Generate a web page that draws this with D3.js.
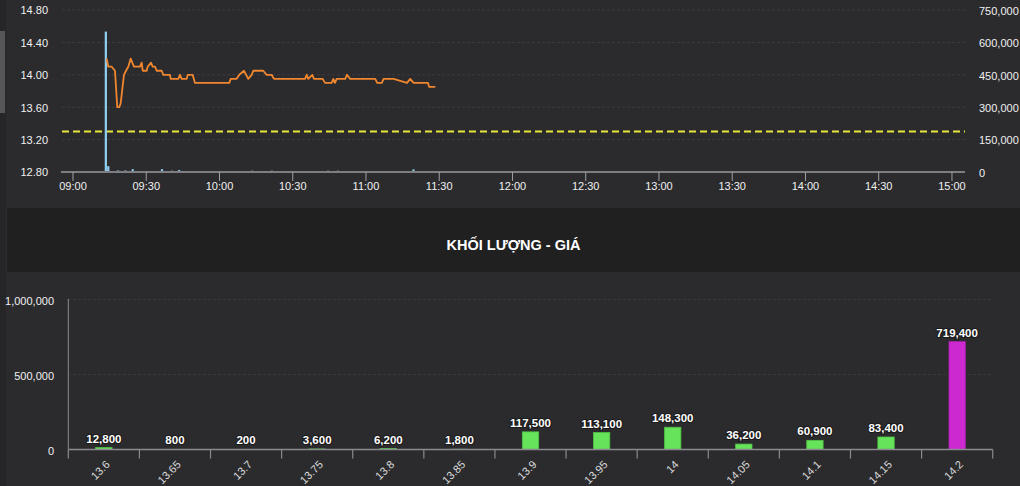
<!DOCTYPE html>
<html>
<head>
<meta charset="utf-8">
<script src="https://cdn.jsdelivr.net/npm/d3@7"></script>
<style>
  html, body { margin: 0; padding: 0; background: #2b2b2e; }
  svg { display: block; font-family: "Liberation Sans", Arial, Helvetica, sans-serif; }
</style>
</head>
<body>
<svg id="chart" width="1020" height="486"></svg>
<script>
// ---------- DATA ----------
const priceTimes = ["09:13:48","09:14:28","09:15:51","09:17:12","09:18:08","09:18:58","09:19:32","09:20:53","09:21:43","09:22:39",
  "09:23:38","09:24:17","09:24:59","09:27:26","09:28:08","09:28:33","09:30:11","09:30:35","09:31:57","09:32:38",
  "09:33:35","09:34:17","09:36:20","09:36:59","09:39:44","09:40:01","09:43:08","09:43:49","09:44:31","09:46:34",
  "09:46:59","09:49:01","09:49:58","10:04:01","10:04:35","10:07:02","10:08:07","10:10:02","10:11:47","10:13:11",
  "10:13:50","10:17:56","10:19:20","10:21:23","10:22:19","10:35:01","10:35:43","10:36:22","10:38:01","10:38:42",
  "10:42:16","10:43:13","10:45:57","10:46:37","10:47:18","10:48:00","10:51:30","10:52:12","10:53:30","11:03:48",
  "11:04:36","11:06:30","11:07:12","11:11:18","11:16:48","11:18:06","11:19:30","11:25:24","11:25:54","11:28:24"];
const priceValues = [14.20,14.10,14.10,14.05,13.60,13.60,13.65,14.00,14.05,14.10,
  14.20,14.15,14.10,14.10,14.15,14.05,14.05,14.10,14.15,14.10,
  14.10,14.05,14.05,14.00,14.00,13.95,13.95,14.00,13.95,13.95,
  14.00,14.00,13.90,13.90,13.95,13.95,14.00,14.05,13.95,14.00,
  14.05,14.05,14.00,14.00,13.95,13.95,14.00,13.95,14.00,13.95,
  13.95,13.90,13.90,13.95,13.90,13.95,13.95,14.00,13.95,13.95,
  13.90,13.90,13.95,13.95,13.90,13.95,13.90,13.90,13.85,13.85];

const volTimes  = ["09:13","09:14","09:18","09:21","09:24","09:36","09:40","09:43","10:13","10:21","10:44","10:48","11:19"];
const volValues = [650000,27000,7000,7000,13000,13000,6000,9000,6000,6000,6000,6000,12000];

const refPrice = 13.30;

const priceTicks = [12.80,13.20,13.60,14.00,14.40,14.80];
const volTicks   = [0,150000,300000,450000,600000,750000];
const timeTicks  = ["09:00","09:30","10:00","10:30","11:00","11:30","12:00","12:30","13:00","13:30","14:00","14:30","15:00"];

const priceLevels = ["13.6","13.65","13.7","13.75","13.8","13.85","13.9","13.95","14","14.05","14.1","14.15","14.2"];
const levelVolumes = [12800,800,200,3600,6200,1800,117500,113100,148300,36200,60900,83400,719400];
const ceilingLevel = "14.2";
const levelTicks = [0,500000,1000000];

const titleText = "KHỐI LƯỢNG - GIÁ";

// ---------- SETUP ----------
const svg = d3.select("#chart");
const pt = d3.timeParse("%H:%M:%S");
const pm = d3.timeParse("%H:%M");
const fmtInt = d3.format(",");
const txtCol = "#f0f0f0";

// background pieces
svg.append("rect").attr("x",0).attr("y",0).attr("width",1020).attr("height",486).attr("fill","#2b2b2e");
svg.append("rect").attr("x",0).attr("y",0).attr("width",6).attr("height",486).attr("fill","#262628");
svg.append("rect").attr("x",0).attr("y",31).attr("width",5).attr("height",82).attr("fill","#565658");

// ---------- TOP CHART ----------
const x = d3.scaleTime().domain([pt("08:55:30"), pt("15:05:20")]).range([62, 965]);
const yP = d3.scaleLinear().domain([12.8, 14.8]).range([172, 10]);
const yV = d3.scaleLinear().domain([0, 750000]).range([172, 10]);

const topG = svg.append("g");

// grid
topG.selectAll("line.grid").data(priceTicks.filter(d => d > 12.8)).join("line")
  .attr("x1", 62).attr("x2", 965)
  .attr("y1", d => yP(d)).attr("y2", d => yP(d))
  .attr("stroke", "#3c3c40").attr("stroke-dasharray", "3,2").attr("stroke-width", 1);

// left axis labels
topG.selectAll("text.lp").data(priceTicks).join("text")
  .attr("x", 48).attr("y", d => yP(d) + 0.5).attr("dy", "0.35em")
  .attr("text-anchor", "end").attr("fill", txtCol).attr("font-size", "11px")
  .text(d => d.toFixed(2));

// right axis labels
topG.selectAll("text.rv").data(volTicks).join("text")
  .attr("x", 979).attr("y", d => yV(d) + 1).attr("dy", "0.35em")
  .attr("text-anchor", "start").attr("fill", txtCol).attr("font-size", "11px")
  .text(d => fmtInt(d));

// reference dashed line
topG.append("line")
  .attr("x1", 62).attr("x2", 965)
  .attr("y1", yP(refPrice)).attr("y2", yP(refPrice))
  .attr("stroke", "#e8e83c").attr("stroke-width", 2).attr("stroke-dasharray", "7,4");

// volume bars
const volData = volTimes.map((t, i) => ({ t: pm(t), v: volValues[i] }));
topG.selectAll("rect.vb").data(volData).join("rect")
  .attr("x", d => x(d.t))
  .attr("width", d => x(d3.timeMinute.offset(d.t, 1)) - x(d.t) - 0.2)
  .attr("y", d => yV(d.v))
  .attr("height", d => yV(0) - yV(d.v))
  .attr("fill", "#8ecdf0");

// x axis
const xAxisG = topG.append("g").attr("transform", "translate(0,172)");
xAxisG.append("line").attr("x1", 61).attr("x2", 965).attr("y1", 0).attr("y2", 0)
  .attr("stroke", "#7d7d82").attr("stroke-width", 2);
const tt = timeTicks.map(pm);
xAxisG.selectAll("line.t").data(tt).join("line")
  .attr("x1", d => x(d)).attr("x2", d => x(d)).attr("y1", 0).attr("y2", 9)
  .attr("stroke", "#a0a0a5").attr("stroke-width", 1);
xAxisG.selectAll("text").data(tt).join("text")
  .attr("x", d => x(d)).attr("y", 18)
  .attr("text-anchor", "middle").attr("fill", txtCol).attr("font-size", "11px")
  .text(d => d3.timeFormat("%H:%M")(d));

// price line
const priceData = priceTimes.map((t, i) => ({ t: pt(t), p: priceValues[i] }));
topG.append("path").datum(priceData)
  .attr("fill", "none").attr("stroke", "#f0862e").attr("stroke-width", 1.8)
  .attr("stroke-linejoin", "round")
  .attr("d", d3.line().x(d => x(d.t)).y(d => yP(d.p)));

// ---------- TITLE BAND ----------
svg.append("rect").attr("x", 7).attr("y", 208).attr("width", 1013).attr("height", 64).attr("fill", "#202021");
svg.append("text").attr("x", 513.5).attr("y", 250)
  .attr("text-anchor", "middle").attr("fill", "#ffffff")
  .attr("font-size", "14.5px").attr("font-weight", "bold")
  .text(titleText);

// ---------- BOTTOM CHART ----------
const xb = d3.scaleBand().domain(priceLevels).range([68.3, 992.7]).padding(0);
const yb = d3.scaleLinear().domain([0, 1000000]).range([449.5, 299.5]);
const bot = svg.append("g");

bot.selectAll("line.g").data(levelTicks.filter(d => d > 0)).join("line")
  .attr("x1", 68).attr("x2", 992)
  .attr("y1", d => yb(d)).attr("y2", d => yb(d))
  .attr("stroke", "#38383c").attr("stroke-dasharray", "3,2");

bot.selectAll("text.yl").data(levelTicks).join("text")
  .attr("x", 54).attr("y", d => yb(d) + 2).attr("dy", "0.35em")
  .attr("text-anchor", "end").attr("fill", txtCol).attr("font-size", "11px")
  .text(d => fmtInt(d));

// y axis line
bot.append("line").attr("x1", 68.3).attr("x2", 68.3).attr("y1", 299).attr("y2", 449.5)
  .attr("stroke", "#8a8a90").attr("stroke-width", 1);

// bars
const bw = xb.bandwidth() * 0.23;
const lvData = priceLevels.map((c, i) => ({ c, v: levelVolumes[i] }));
bot.selectAll("rect.bar").data(lvData).join("rect")
  .attr("x", d => xb(d.c) + xb.bandwidth() / 2 - bw / 2)
  .attr("width", bw)
  .attr("y", d => yb(d.v))
  .attr("height", d => yb(0) - yb(d.v))
  .attr("fill", d => d.c === ceilingLevel ? "#cc2ad0" : "#66e35a")
  .attr("stroke", d => d.c === ceilingLevel ? "#a61fa8" : "#4fc444")
  .attr("stroke-width", 0.8);

// value labels
bot.selectAll("text.val").data(lvData).join("text")
  .attr("x", d => xb(d.c) + xb.bandwidth() / 2)
  .attr("y", d => yb(d.v) - 5)
  .attr("text-anchor", "middle").attr("fill", "#ffffff")
  .attr("font-size", "11.5px").attr("font-weight", "bold")
  .attr("stroke", "#1a1a1a").attr("stroke-width", 2.2).attr("paint-order", "stroke")
  .text(d => fmtInt(d.v));

// x axis
const bAxis = bot.append("g").attr("transform", "translate(0,449.5)");
bAxis.append("line").attr("x1", 68.3).attr("x2", 992.7).attr("y1", 0).attr("y2", 0)
  .attr("stroke", "#8a8a90").attr("stroke-width", 1.5);
const bounds = priceLevels.map(c => xb(c)).concat([xb.range()[1]]);
bAxis.selectAll("line.t").data(bounds).join("line")
  .attr("x1", d => d).attr("x2", d => d).attr("y1", 0).attr("y2", 9)
  .attr("stroke", "#8a8a90").attr("stroke-width", 1.2);
bAxis.selectAll("text").data(priceLevels).join("text")
  .attr("transform", d => `translate(${xb(d) + xb.bandwidth() / 2 + 4},${13}) rotate(-45)`)
  .attr("text-anchor", "end").attr("dy", "0.35em")
  .attr("fill", "#dcdcdc").attr("font-size", "11px")
  .text(d => d);
</script>
</body>
</html>
